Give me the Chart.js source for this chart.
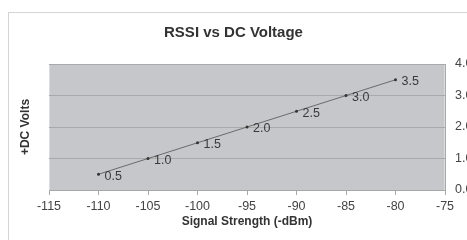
<!DOCTYPE html>
<html>
<head>
<meta charset="utf-8">
<script src="https://cdn.jsdelivr.net/npm/chart.js@4/dist/chart.umd.min.js"></script>
<style>
  html, body { margin: 0; padding: 0; background: #fff; }
  #wrap { width: 467px; height: 240px; position: relative; }
</style>
</head>
<body>
<div id="wrap"><canvas id="chart"></canvas></div>
<script>
// data
const signalDbm = [-110, -105, -100, -95, -90, -85, -80];
const dcVolts = [0.5, 1.0, 1.5, 2.0, 2.5, 3.0, 3.5];
const xTicks = [-115, -110, -105, -100, -95, -90, -85, -80, -75];
const yTicks = [0, 1, 2, 3, 4];

const FONT = "'Liberation Sans', Arial, sans-serif";

// gray plot background + frame around the whole chart
const backdrop = {
    id: "backdrop",
    beforeDraw(chart) {
        const ctx = chart.ctx;
        const a = chart.chartArea;
        ctx.save();
        ctx.strokeStyle = "#d4d4d4";
        ctx.lineWidth = 1;
        ctx.strokeRect(8.5, 12.5, 470, 240);
        ctx.fillStyle = "#c6c7ca";
        ctx.fillRect(a.left, a.top, a.right - a.left, a.bottom - a.top);
        ctx.strokeStyle = "#dcdcdc";
        ctx.strokeRect(a.left + 0.5, a.top + 0.5, a.right - a.left - 1, a.bottom - a.top);
        ctx.restore();
    }
};

// value labels to the right of each point
const pointLabels = {
    id: "pointLabels",
    afterDatasetsDraw(chart) {
        const ctx = chart.ctx;
        const meta = chart.getDatasetMeta(0);
        ctx.save();
        ctx.font = "12.5px " + FONT;
        ctx.fillStyle = "#3a3a3a";
        ctx.textAlign = "left";
        ctx.textBaseline = "middle";
        meta.data.forEach(function (pt, i) {
            ctx.fillText(dcVolts[i].toFixed(1), pt.x + 6, pt.y + 2);
        });
        ctx.restore();
    }
};

new Chart(document.getElementById("chart"), {
    type: "line",
    data: {
        datasets: [{
            data: signalDbm.map((x, i) => ({ x: x, y: dcVolts[i] })),
            borderColor: "#6a6a6a",
            borderWidth: 1,
            pointRadius: 1.5,
            pointBackgroundColor: "#333",
            pointBorderColor: "#333",
            pointBorderWidth: 0,
            fill: false,
            tension: 0
        }]
    },
    options: {
        responsive: true,
        maintainAspectRatio: false,
        animation: false,
        layout: { padding: { left: 0, right: 0, top: 0, bottom: 0 } },
        plugins: {
            legend: { display: false },
            tooltip: { enabled: false },
            title: {
                display: true,
                text: "RSSI vs DC Voltage",
                color: "#333",
                font: { family: FONT, size: 15, weight: "bold" },
                padding: { top: 24, bottom: 22 }
            }
        },
        scales: {
            x: {
                type: "linear",
                position: "bottom",
                min: -115,
                max: -75,
                afterBuildTicks: function (scale) {
                    scale.ticks = xTicks.map(v => ({ value: v }));
                },
                afterFit: function (scale) { scale.height = 50; },
                ticks: {
                    color: "#444",
                    font: { family: FONT, size: 12.5 },
                    padding: 4,
                    maxRotation: 0,
                    autoSkip: false
                },
                grid: {
                    drawOnChartArea: false,
                    drawTicks: true,
                    tickLength: 5,
                    color: "#a8a8a8"
                },
                border: { color: "#a8a8a8" },
                title: {
                    display: true,
                    text: "Signal Strength (-dBm)",
                    color: "#333",
                    font: { family: FONT, size: 12, weight: "bold" },
                    padding: { top: 0, bottom: 11 }
                }
            },
            y: {
                type: "linear",
                position: "right",
                min: 0,
                max: 4,
                afterBuildTicks: function (scale) {
                    scale.ticks = yTicks.map(v => ({ value: v }));
                },
                afterFit: function (scale) { scale.width = 22; },
                ticks: {
                    color: "#444",
                    font: { family: FONT, size: 12.5 },
                    padding: 10,
                    callback: v => Number(v).toFixed(1)
                },
                grid: {
                    color: "#a9a9ac",
                    drawTicks: false
                },
                border: { display: true, color: "#a8a8a8" }
            },
            yTitle: {
                type: "linear",
                position: "left",
                display: true,
                afterFit: function (scale) { scale.width = 49; },
                ticks: { display: false },
                grid: { display: false },
                border: { display: false },
                title: {
                    display: true,
                    text: "+DC Volts",
                    color: "#333",
                    font: { family: FONT, size: 12, weight: "bold" },
                    padding: { top: 18, bottom: 0 }
                }
            }
        }
    },
    plugins: [backdrop, pointLabels]
});
</script>
</body>
</html>
